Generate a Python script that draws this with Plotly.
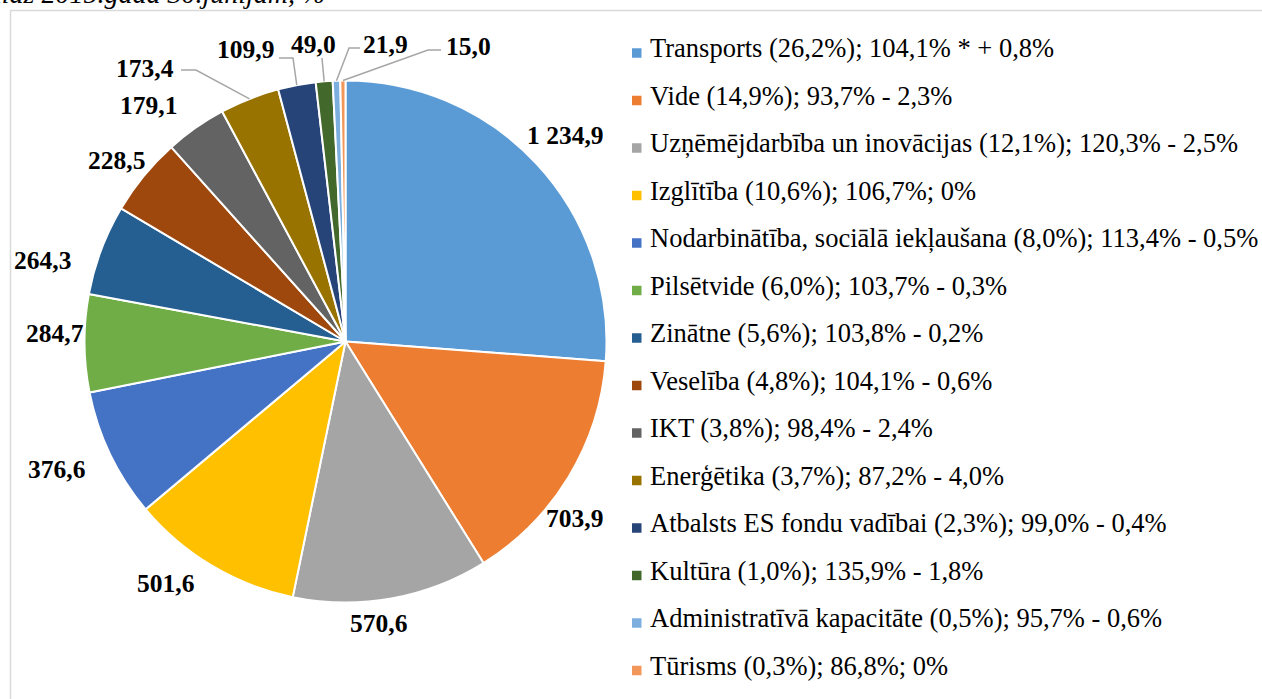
import math
import plotly.graph_objects as go

# ---------------- data ----------------
categories = [
    "Transports", "Vide", "Uzņēmējdarbība un inovācijas", "Izglītība",
    "Nodarbinātība, sociālā iekļaušana", "Pilsētvide", "Zinātne", "Veselība",
    "IKT", "Enerģētika", "Atbalsts ES fondu vadībai", "Kultūra",
    "Administratīvā kapacitāte", "Tūrisms",
]
values = [1234.9, 703.9, 570.6, 501.6, 376.6, 284.7, 264.3, 228.5,
          179.1, 173.4, 109.9, 49.0, 21.9, 15.0]
legend_suffix = [
    "(26,2%); 104,1% * + 0,8%", "(14,9%); 93,7% - 2,3%", "(12,1%); 120,3% - 2,5%",
    "(10,6%); 106,7%; 0%", "(8,0%); 113,4% - 0,5%", "(6,0%); 103,7% - 0,3%",
    "(5,6%); 103,8% - 0,2%", "(4,8%); 104,1% - 0,6%", "(3,8%); 98,4% - 2,4%",
    "(3,7%); 87,2% - 4,0%", "(2,3%); 99,0% - 0,4%", "(1,0%); 135,9% - 1,8%",
    "(0,5%); 95,7% - 0,6%", "(0,3%); 86,8%; 0%",
]
title_text = "līdz 2015.gada 30.jūnijam, %"

# ---------------- style ----------------
colors = ["#5B9BD5", "#ED7D31", "#A5A5A5", "#FFC000", "#4472C4", "#70AD47",
          "#255E91", "#9E480E", "#636363", "#997300", "#264478", "#43682B",
          "#7CAFDD", "#F1975A"]
W, H = 1262, 699
CX, CY, R = 345.5, 341.5, 261.0
FONT = "Liberation Serif, Times New Roman, serif"

# label text centres (px) – layout only
label_pos = [(565, 135), (574, 518), (378, 623), (165, 583), (56, 469),
             (55, 333), (42, 260), (116, 160), (148, 105), (145, 68),
             (245, 50), (313, 44), (385, 44), (468, 46)]
# leader lines: index -> (start px, elbow px); end is computed on slice edge
leaders = {
    9: ((181, 70), (196, 70)),
    10: ((279, 58), (293, 58)),
    11: ((322, 58), (322, 58)),
    12: ((360, 48), (349, 48)),
    13: ((441, 50), (428, 50)),
}


def px(x, y):
    return x / W, 1 - y / H


def fmt(v):
    s = f"{v:,.1f}"
    return s.replace(",", " ").replace(".", ",")


total = sum(values)
mids = []
cum = 0.0
for v in values:
    mids.append((cum + v / 2) / total * 360.0)
    cum += v

fig = go.Figure()
fig.add_trace(go.Pie(
    labels=categories, values=values, sort=False, direction="clockwise",
    rotation=0, textinfo="none", showlegend=False,
    marker=dict(colors=colors, line=dict(color="white", width=2)),
    domain=dict(x=[(CX - R) / W, (CX + R) / W],
                y=[1 - (CY + R) / H, 1 - (CY - R) / H]),
))

annotations = []
shapes = []

# value labels
for i, v in enumerate(values):
    x, y = px(*label_pos[i])
    annotations.append(dict(
        x=x, y=y, xref="paper", yref="paper", text=fmt(v), showarrow=False,
        xanchor="center", yanchor="middle",
        font=dict(family=FONT, size=25.5, color="black", weight="bold"),
    ))

# leader lines
for i, (s, e) in leaders.items():
    a = math.radians(mids[i])
    ex = CX + R * math.sin(a)
    ey = CY - R * math.cos(a)
    pts = [s, e, (ex, ey)]
    path = "M " + " L ".join(f"{px(*p)[0]},{px(*p)[1]}" for p in pts)
    shapes.append(dict(type="path", xref="paper", yref="paper", path=path,
                       line=dict(color="#A6A6A6", width=1.5)))

# legend (custom)
ROW0, STEP = 53.0, 47.5
for i, (c, suf) in enumerate(zip(categories, legend_suffix)):
    yc = ROW0 + STEP * i
    x0, y0 = px(632, yc - 4.75)
    x1, y1 = px(641.5, yc + 4.75)
    shapes.append(dict(type="rect", xref="paper", yref="paper",
                       x0=x0, x1=x1, y0=y1, y1=y0,
                       fillcolor=colors[i], line=dict(width=0)))
    tx, ty = px(648, yc - 5)
    annotations.append(dict(
        x=tx, y=ty, xref="paper", yref="paper", text=f"{c} {suf}",
        showarrow=False, xanchor="left", yanchor="middle",
        font=dict(family=FONT, size=26.5, color="black"),
    ))

# cut-off heading line at the very top
tx, ty = px(-8, -7)
annotations.append(dict(
    x=tx, y=ty, xref="paper", yref="paper", text=f"<i>{title_text}</i>",
    showarrow=False, xanchor="left", yanchor="middle",
    font=dict(family=FONT, size=28, color="black"),
))

# chart-area border
bx0, by0 = px(10.5, 10.5)
bx1, by1 = px(1275, 720)
shapes.append(dict(type="rect", xref="paper", yref="paper",
                   x0=bx0, x1=bx1, y0=by1, y1=by0,
                   line=dict(color="#D9D9D9", width=1.5), fillcolor="rgba(0,0,0,0)"))

fig.update_layout(
    width=W, height=H, margin=dict(l=0, r=0, t=0, b=0),
    paper_bgcolor="white", plot_bgcolor="white",
    annotations=annotations, shapes=shapes,
)
fig.write_html(
    "out.html",
    config={"displayModeBar": False},
    post_script="document.body.style.margin='0';document.body.style.overflow='hidden';",
)
